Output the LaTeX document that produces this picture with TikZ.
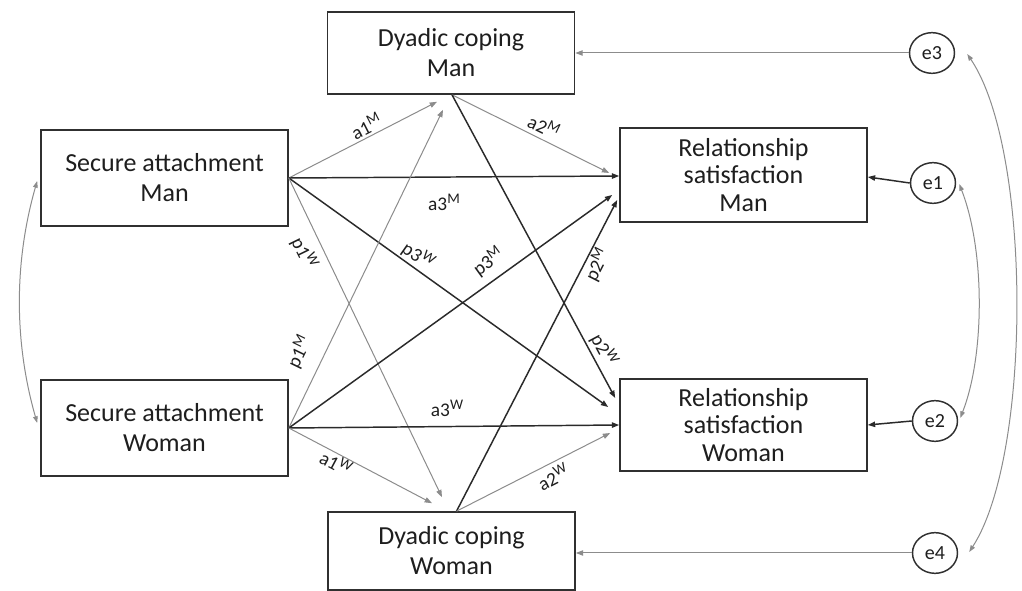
\documentclass[tikz,border=0pt]{standalone}
\usepackage{fontspec}
\setmainfont{Carlito}
\usetikzlibrary{arrows.meta,calc,shapes.geometric}
\definecolor{darkc}{HTML}{2A2A2A}
\definecolor{grayc}{HTML}{8C8C8C}
\definecolor{boxc}{HTML}{303030}
\definecolor{textc}{HTML}{1E1E1E}
\newcommand\sps[1]{\raisebox{0.36em}{\fontsize{11}{11}\selectfont #1}}
\begin{document}
\begin{tikzpicture}[x=0.75pt,y=-0.75pt,
  box/.style={draw=boxc, line width=1.2pt, minimum width=185.25pt, align=center,
    text=textc, font=\fontsize{19.5}{22.5}\selectfont, inner sep=0pt},
  boxthree/.style={box, font=\fontsize{19.5}{20.5}\selectfont},
  err/.style={draw=boxc, line width=1.1pt, ellipse, minimum width=33.75pt, minimum height=30.5pt,
    inner sep=0pt, text=textc, font=\fontsize{15}{16}\selectfont},
  darr/.style={draw=darkc, line width=1.1pt, -{Triangle[length=5.5pt,width=4pt]}},
  garr/.style={draw=grayc, line width=0.75pt, -{Triangle[length=5.5pt,width=4pt]}},
  dbl/.style={draw=grayc, line width=0.75pt, {Triangle[length=5pt,width=3.5pt]}-{Triangle[length=5pt,width=3.5pt]}},
  lbl/.style={font=\fontsize{14.5}{16}\selectfont, text=textc, inner sep=0pt}]
\fill[white] (0,0) rectangle (1022,591);
\useasboundingbox (0,0) rectangle (1022,591);

% boxes
\node[box, minimum height=72pt] (sam) at (164.5,178) {Secure attachment\\Man};
\node[box, minimum height=72pt] (saw) at (164.5,428) {Secure attachment\\Woman};
\node[box, minimum height=61.5pt] (dcm) at (451,53) {Dyadic coping\\Man};
\node[box, minimum height=58.5pt] (dcw) at (451.5,551) {Dyadic coping\\Woman};
\node[boxthree, minimum height=70.5pt] (rsm) at (743.5,175) {Relationship\\satisfaction\\Man};
\node[boxthree, minimum height=69pt] (rsw) at (743.5,425) {Relationship\\satisfaction\\Woman};

% error terms
\node[err] (e3) at (932,53) {e3};
\node[err] (e1) at (933,183) {e1};
\node[err] (e2) at (935,421) {e2};
\node[err] (e4) at (935,553) {e4};

% error arrows
\draw[garr] (e3) -- (dcm.east);
\draw[garr] (e4.west) -- (e4.west -| dcw.east);
\draw[darr] (e1.west) -- ($(rsm.east)+(0,2)$);
\draw[darr] (e2.west) -- (rsw.east);

% from secure attachment man
\draw[garr] (sam.east) -- ($(dcm.south)+(-14,7)$);
\draw[darr] (sam.east) -- ($(rsm.west)+(0,1)$);
\draw[darr] (sam.east) -- ($(rsw.west)+(-11,-18)$);
\draw[garr] (sam.east) -- ($(dcw.north)+(-9.5,-14)$);

% from secure attachment woman
\draw[garr] (saw.east) -- ($(dcm.south)+(-8,15)$);
\draw[darr] (saw.east) -- ($(rsm.west)+(-7,20)$);
\draw[darr] (saw.east) -- (rsw.west);
\draw[garr] (saw.east) -- ($(dcw.north)+(-19.5,-8)$);

% from dyadic coping man
\draw[garr] ($(dcm.south)+(1,0)$) -- ($(rsm.west)+(-10,-2)$);
\draw[darr] ($(dcm.south)+(1,0)$) -- ($(rsw.west)+(-4,-27)$);

% from dyadic coping woman
\draw[darr] ($(dcw.north)+(5,0)$) -- ($(rsm.west)+(-2,25)$);
\draw[garr] ($(dcw.north)+(5,0)$) -- ($(rsw.west)+(-9,8)$);

% covariances
\draw[dbl] ($(e3.east)+(12,1)$) .. controls (1032,150) and (1032,455) .. ($(e4.east)+(11,-1)$);
\draw[dbl] ($(e1.east)+(3,1)$) .. controls (985,250) and (985,355) .. ($(e2.east)+(2,-3)$);
\draw[dbl] ($(sam.west)+(-3,3)$) .. controls (14,262) and (14,342) .. ($(saw.west)+(-3,-5)$);

% labels
\node[lbl, rotate=27] (la1m) at (366,126) {a1\sps{M}};
\node[lbl, rotate=-26] (la2m) at (544,126) {a2\sps{M}};
\node[lbl] (la3m) at (444,202) {a3\sps{M}};
\node[lbl, rotate=-64] (lp1w) at (304,253) {p1\sps{W}};
\node[lbl, rotate=-35] (lp3w) at (418,256) {p3\sps{W}};
\node[lbl, rotate=36] (lp3m) at (488,262) {p3\sps{M}};
\node[lbl, rotate=63] (lp2m) at (597,265) {p2\sps{M}};
\node[lbl, rotate=64] (lp1m) at (299,352) {p1\sps{M}};
\node[lbl, rotate=-62] (lp2w) at (604,350) {p2\sps{W}};
\node[lbl] (la3w) at (447,408) {a3\sps{W}};
\node[lbl, rotate=-28] (la1w) at (336,463) {a1\sps{W}};
\node[lbl, rotate=27] (la2w) at (553,477) {a2\sps{W}};
\end{tikzpicture}
\end{document}
